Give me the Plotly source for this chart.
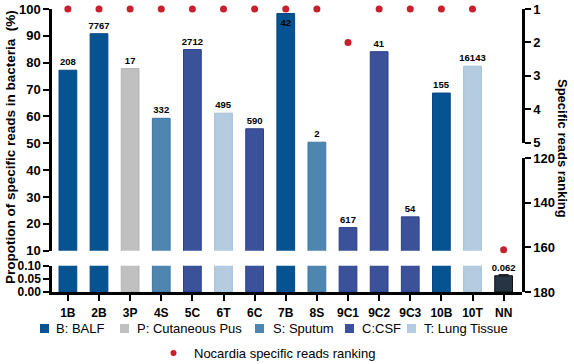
import plotly.graph_objects as go

# ---------------- data ----------------
categories = ["1B", "2B", "3P", "4S", "5C", "6T", "6C", "7B", "8S",
              "9C1", "9C2", "9C3", "10B", "10T", "NN"]
proportion = [77.2, 90.8, 77.8, 59.3, 84.9, 61.2, 55.4, 98.3, 50.4,
              18.6, 84.1, 22.6, 68.7, 78.7, 0.062]
read_labels = ["208", "7767", "17", "332", "2712", "495", "590", "42", "2",
               "617", "41", "54", "155", "16143", "0.062"]
sample_type = ["B", "B", "P", "S", "C", "T", "C", "B", "S",
               "C", "C", "C", "B", "T", "N"]
error_upper = [0, 0, 0, 0, 0, 0, 0, 0, 0, 0, 0, 0, 0, 0, 0.004]
ranking = [1, 1, 1, 1, 1, 1, 1, 1, 1, 2, 1, 1, 1, 1, 161]

left_upper_ticks = [10, 20, 30, 40, 50, 60, 70, 80, 90, 100]
left_lower_ticks = [0, 0.05, 0.10]
left_lower_labels = ["0.00", "0.05", "0.10"]
right_upper_ticks = [1, 2, 3, 4, 5]
right_lower_ticks = [120, 140, 160, 180]

legend_keys = ["B", "P", "S", "C", "T"]
legend_labels = ["B: BALF", "P: Cutaneous Pus", "S: Sputum", "C:CSF", "T: Lung Tissue"]
dot_label = "Nocardia specific reads ranking"

# ---------------- styles ----------------
fill = {"B": "#065392", "P": "#c0c0c0", "S": "#4f86b0", "C": "#3b5199",
        "T": "#b4cbe0", "N": "#263444"}
edge = {"B": "#0a4585", "P": "#b3b3b3", "S": "#3f76a3", "C": "#2b3f8c",
        "T": "#a3bfd8", "N": "#111111"}
RED = "#c8202c"
FONT = "Liberation Sans, Arial, sans-serif"

W, H = 574, 364
ML, MR, MT, MB = 52, 52, 9, 72
PW = W - ML - MR
PH = H - MT - MB


def px_x(p):
    return (p - ML) / PW


def px_y(p):
    return (H - MB - p) / PH


bar_colors = [fill[t] for t in sample_type]
bar_edges = [edge[t] for t in sample_type]
label_font = dict(family=FONT, size=9.5, color="black", weight=700)

fig = go.Figure()

# upper panel bars (10-100 %)
upper_text = [lab if v >= 10 else "" for lab, v in zip(read_labels, proportion)]
upper_pos = ["inside" if v > 95 else "outside" for v in proportion]
fig.add_trace(go.Bar(
    x=categories, y=proportion, xaxis="x", yaxis="y",
    width=0.57,
    marker=dict(color=bar_colors, line=dict(color=bar_edges, width=1)),
    text=upper_text, textposition=upper_pos, insidetextanchor="end",
    textfont=label_font, insidetextfont=label_font, outsidetextfont=label_font,
    constraintext="none", cliponaxis=False, textangle=0,
    showlegend=False, hoverinfo="skip",
))

# lower panel bars (0-0.10 %)
lower_text = [lab if v < 10 else "" for lab, v in zip(read_labels, proportion)]
fig.add_trace(go.Bar(
    x=categories, y=proportion, xaxis="x", yaxis="y2",
    width=0.57,
    marker=dict(color=bar_colors, line=dict(color=bar_edges, width=1)),
    error_y=dict(type="data", array=error_upper, arrayminus=[0] * len(error_upper),
                 color="#222222", thickness=1.5, width=5),
    text=lower_text, textposition="outside",
    textfont=label_font,
    constraintext="none", cliponaxis=False, textangle=0,
    showlegend=False, hoverinfo="skip",
))

# ranking dots
top_x = [c for c, r in zip(categories, ranking) if r <= 5]
top_r = [r for r in ranking if r <= 5]
low_x = [c for c, r in zip(categories, ranking) if r > 5]
low_r = [r for r in ranking if r > 5]
fig.add_trace(go.Scatter(
    x=top_x, y=top_r, xaxis="x", yaxis="y3", mode="markers",
    marker=dict(color=RED, size=7), cliponaxis=False,
    showlegend=False, hoverinfo="skip"))
fig.add_trace(go.Scatter(
    x=low_x, y=low_r, xaxis="x", yaxis="y4", mode="markers",
    marker=dict(color=RED, size=7), cliponaxis=False,
    showlegend=False, hoverinfo="skip"))


def axis_style(size=13):
    return dict(showline=True, linewidth=2.5, linecolor="black",
                ticks="outside", ticklen=6, tickwidth=2, tickcolor="black",
                showgrid=False, zeroline=False, automargin=False,
                tickfont=dict(family=FONT, size=size, color="black", weight=700))


fig.update_layout(
    template="none",
    width=W, height=H,
    margin=dict(l=ML, r=MR, t=MT, b=MB, pad=0, autoexpand=False),
    paper_bgcolor="white", plot_bgcolor="rgba(0,0,0,0)",
    font=dict(family=FONT, color="black"),
    xaxis=dict(type="category", categoryorder="array", categoryarray=categories,
               range=[-0.51, 14.59], domain=[0, 1], anchor="y2",
               showline=True, linewidth=2.5, linecolor="black",
               ticks="outside", ticklen=6, tickwidth=2, tickcolor="black",
               ticklabelstandoff=2,
               showgrid=False, zeroline=False, automargin=False,
               tickfont=dict(family=FONT, size=12, color="black", weight=700)),
    yaxis=dict(domain=[0.1459, 1], anchor="x", range=[10, 100],
               tickvals=left_upper_ticks, **axis_style(13)),
    yaxis2=dict(domain=[0, 0.0929], anchor="x", range=[0, 0.10],
                tickvals=left_lower_ticks, ticktext=left_lower_labels, **axis_style(12)),
    yaxis3=dict(domain=[0.5276, 1], anchor="x", side="right", range=[5, 1],
                tickvals=right_upper_ticks, **axis_style(13)),
    yaxis4=dict(domain=[0, 0.4724], anchor="x", side="right", range=[180, 120],
                tickvals=right_lower_ticks, **axis_style(13)),
)

annotations = [
    dict(text="Propotion of specific reads in bacteria  (%)",
         x=px_x(10), y=px_y(147), xref="paper", yref="paper",
         textangle=-90, showarrow=False, xanchor="center", yanchor="middle",
         font=dict(family=FONT, size=13.5, color="black", weight=700)),
    dict(text="Specific reads ranking",
         x=px_x(563), y=px_y(148), xref="paper", yref="paper",
         textangle=90, showarrow=False, xanchor="center", yanchor="middle",
         font=dict(family=FONT, size=13, color="black", weight=700)),
]
shapes = []

# manual legend (row 1: sample types, row 2: ranking dots)
sq_x = [40, 120, 255, 345, 407]
tx_x = [55, 136, 272, 361, 423]
row1 = 328.5
for k, lab, sx, tx in zip(legend_keys, legend_labels, sq_x, tx_x):
    shapes.append(dict(type="rect", xref="paper", yref="paper",
                       x0=px_x(sx), x1=px_x(sx + 9),
                       y0=px_y(row1 + 4.5), y1=px_y(row1 - 4.5),
                       fillcolor=fill[k], line=dict(width=0)))
    annotations.append(dict(text=lab, x=px_x(tx), y=px_y(row1),
                            xref="paper", yref="paper", showarrow=False,
                            xanchor="left", yanchor="middle", borderpad=0,
                            font=dict(family=FONT, size=13, color="black")))
row2 = 353
shapes.append(dict(type="circle", xref="paper", yref="paper",
                   x0=px_x(170.5), x1=px_x(176.5),
                   y0=px_y(row2 + 3), y1=px_y(row2 - 3),
                   fillcolor=RED, line=dict(width=0)))
annotations.append(dict(text=dot_label, x=px_x(193), y=px_y(row2),
                        xref="paper", yref="paper", showarrow=False,
                        xanchor="left", yanchor="middle", borderpad=0,
                        font=dict(family=FONT, size=13, color="black")))

fig.update_layout(annotations=annotations, shapes=shapes)

fig.write_html("out.html", config={"displayModeBar": False},
               post_script="document.body.style.margin='0';")
